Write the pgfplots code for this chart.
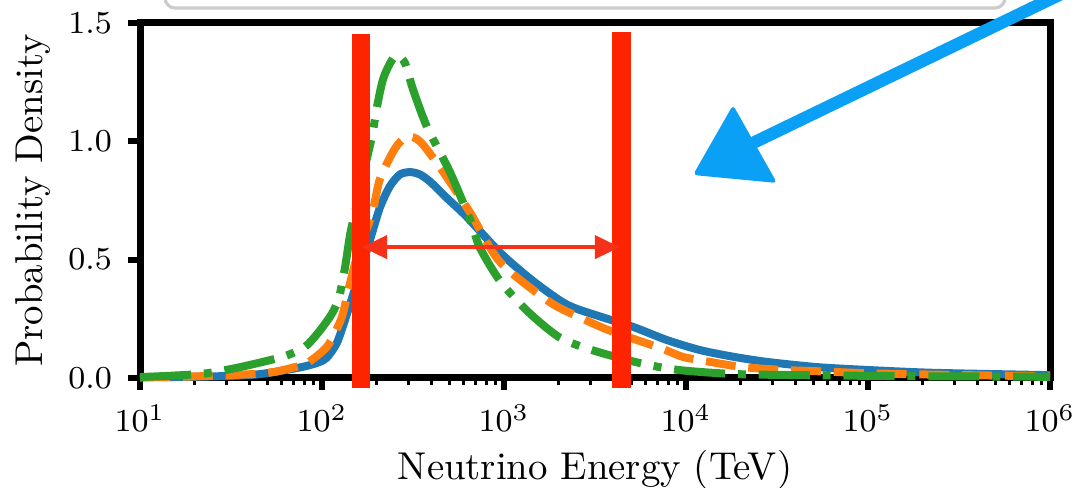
\documentclass[border=0pt]{standalone}
\usepackage{pgfplots}
\pgfplotsset{compat=1.18}
\usetikzlibrary{arrows.meta}
\definecolor{mplblue}{HTML}{1F77B4}
\definecolor{mplorange}{HTML}{FF7F0E}
\definecolor{mplgreen}{HTML}{2CA02C}
\definecolor{barred}{RGB}{255,36,0}
\definecolor{arrowred}{RGB}{245,50,25}
\definecolor{sketchblue}{RGB}{10,160,245}
\begin{document}
\begin{tikzpicture}
\useasboundingbox (-35pt,-27.5pt) rectangle (234.25pt,94.5pt);
\clip (-35pt,-27.5pt) rectangle (234.25pt,94.5pt);
\draw[rounded corners=2.5pt, line width=0.8pt, black!20, fill=white] (6.25pt,92.5pt) rectangle (216.25pt,110pt);
\begin{axis}[
  at={(0,0)}, anchor=south west,
  scale only axis, width=227.5pt, height=88.75pt,
  xmode=log, xmin=10, xmax=1e6, ymin=0, ymax=1.5,
  ytick={0,0.5,1,1.5}, yticklabels={0.0,0.5,1.0,1.5},
  xtick={10,100,1000,10000,100000,1000000},
  axis line style={line width=1.75pt},
  tick align=outside, xtick pos=bottom, ytick pos=left,
  major tick length=3pt, minor tick length=1.75pt,
  every tick/.style={black},
  every major tick/.append style={line width=1.5pt},
  every minor tick/.append style={line width=0.75pt},
  tick label style={font=\fontsize{8}{9}\selectfont},
  xticklabel style={yshift=-0.25pt},
  yticklabel style={xshift=-0.5pt},
  label style={font=\fontsize{9.7}{11}\selectfont},
  xlabel={Neutrino Energy (TeV)},
  ylabel={Probability Density},
  xlabel style={at={(axis description cs:0.5,0)}, anchor=base, yshift=-25.4pt},
  ylabel style={at={(axis description cs:0,0.5)}, anchor=base, rotate=0, yshift=24.25pt},
  clip=false,
]
\addplot[mplblue, line width=2pt, smooth, tension=0.45] coordinates {
(10,0.003)(23,0.006)(44,0.015)(76,0.045)(95,0.065)(106,0.085)(121,0.15)(137,0.27)(158,0.42)(183,0.58)(208,0.72)(236,0.81)(268,0.86)(305,0.87)(345,0.86)(392,0.83)(486,0.76)(626,0.68)(951,0.53)(1443,0.41)(2218,0.31)(3367,0.26)(5114,0.216)(7870,0.16)(11940,0.118)(18110,0.09)(27870,0.068)(52480,0.046)(98840,0.034)(227600,0.022)(1000000,0.012)
};
\addplot[mplorange, line width=2pt, dash pattern=on 7.5pt off 3.2pt, smooth, tension=0.45] coordinates {
(10,0.002)(23,0.008)(40,0.016)(54,0.025)(70,0.045)(83,0.063)(106,0.13)(121,0.21)(130,0.27)(142.5,0.40)(158,0.53)(188,0.69)(208,0.84)(252,0.97)(293,1.02)(345,1.0)(445,0.89)(650,0.70)(951,0.49)(1789,0.32)(2716,0.25)(3820,0.20)(7197,0.127)(9636,0.089)(13550,0.068)(20560,0.046)(34120,0.034)(59620,0.027)(98840,0.02)(282600,0.013)(1000000,0.007)
};
\addplot[mplgreen, line width=2pt, dash pattern=on 12.8pt off 3.2pt on 2pt off 3.2pt, smooth, tension=0.45] coordinates {
(10,0.004)(15.2,0.01)(23.3,0.02)(36,0.047)(61,0.09)(80,0.13)(95,0.19)(113,0.27)(124,0.34)(134,0.47)(143,0.61)(155,0.73)(166,0.84)(188,1.02)(201,1.15)(216,1.26)(236.5,1.33)(258,1.365)(286,1.33)(316,1.22)(378,1.06)(505,0.87)(650,0.67)(738,0.55)(951,0.41)(1355,0.28)(2032,0.17)(3162,0.114)(5585,0.063)(9040,0.034)(18110,0.017)(42270,0.012)(150000,0.008)(1000000,0.005)
};
\draw[barred, line width=4.6pt] (axis cs:163.3,-0.042) -- (axis cs:163.3,1.452);
\draw[barred, line width=4.6pt] (axis cs:4422,-0.042) -- (axis cs:4422,1.462);
\draw[arrowred, line width=1pt, {Triangle[length=6.25pt,width=5.75pt]}-{Triangle[length=6.25pt,width=5.75pt]}] (axis cs:166,0.553) -- (axis cs:4335,0.553);
\end{axis}
\draw[sketchblue, line width=3.1pt, line cap=round] (237.5pt,99.5pt) -- (153.75pt,59pt);
\fill[sketchblue, rounded corners=1pt] (138.25pt,50.75pt) -- (148.25pt,68.25pt) -- (159.25pt,48.75pt) -- cycle;
\end{tikzpicture}
\end{document}
